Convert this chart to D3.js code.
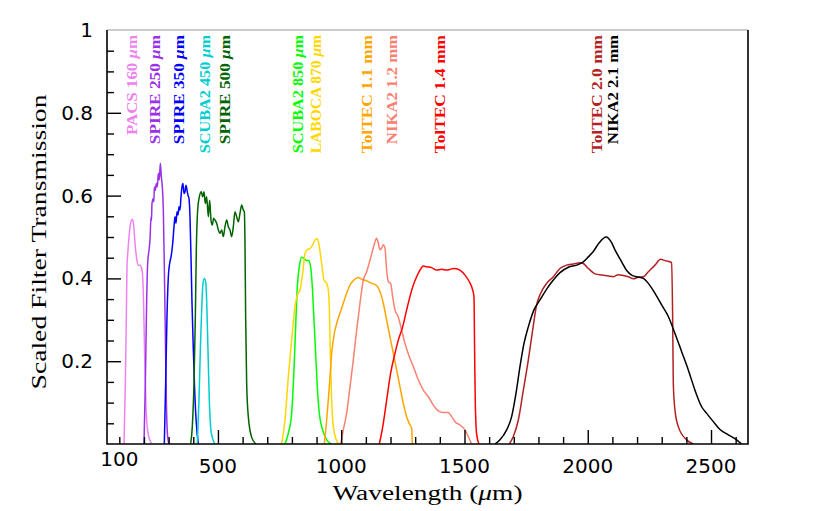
<!DOCTYPE html>
<html>
<head>
<meta charset="utf-8">
<script src="https://cdn.jsdelivr.net/npm/d3@7"></script>
<style>
  body { margin: 0; background: #fff; }
</style>
</head>
<body>
<div id="chart"></div>
<script>
// filter curves, [wavelength (um), scaled transmission]
const pacs160 = [[119,0],[124.4,0.146],[128.4,0.307],[131.1,0.428],[135.2,0.468],[140.6,0.509],[147.3,0.537],[152.7,0.543],[158.2,0.529],[163.6,0.485],[170.3,0.448],[177.1,0.432],[183.8,0.432],[190.6,0.424],[194.7,0.404],[198.7,0.332],[202.8,0.211],[208.2,0.09],[216.3,0.026],[231.2,0]];
const spire250 = [[200,0],[205.5,0.146],[210.9,0.348],[214.9,0.436],[220.3,0.468],[224.4,0.493],[228.5,0.549],[230.5,0.54],[232.5,0.581],[237.9,0.593],[240,0.585],[242,0.621],[246,0.613],[250.1,0.629],[254.1,0.621],[258.2,0.654],[262.3,0.638],[266.3,0.678],[270.4,0.646],[274.4,0.621],[278.5,0.565],[282.5,0.428],[286.6,0.267],[290.6,0.106],[296,0.018],[301.5,0]];
const spire350 = [[282.5,0],[287.9,0.146],[293.3,0.307],[298.8,0.404],[304.2,0.436],[309.6,0.452],[313.6,0.468],[317.7,0.493],[321.7,0.525],[325.8,0.549],[329.9,0.533],[333.9,0.561],[338,0.553],[342,0.573],[346.1,0.565],[350.1,0.597],[354.2,0.621],[358.2,0.629],[362.3,0.605],[366.4,0.609],[370.4,0.625],[374.5,0.613],[378.5,0.601],[382.6,0.593],[386.6,0.549],[390.7,0.452],[394.8,0.34],[400.2,0.227],[405.6,0.13],[412.3,0.05],[420.4,0]];
const scuba450 = [[416.4,0],[423.1,0.106],[428.6,0.227],[434,0.324],[439.4,0.388],[444.8,0.4],[450.2,0.392],[454.2,0.348],[459.6,0.227],[465,0.106],[473.2,0.026],[488,0]];
const spire500 = [[389.3,0],[396,0.042],[402.9,0.146],[408.3,0.307],[412.3,0.468],[417.7,0.565],[424.5,0.597],[432.6,0.609],[438,0.597],[443.4,0.609],[448.8,0.581],[454.2,0.597],[461,0.549],[466.4,0.589],[471.8,0.541],[477.2,0.529],[482.6,0.545],[488,0.541],[494.8,0.533],[501.6,0.517],[508.3,0.509],[515.1,0.517],[521.8,0.501],[528.6,0.525],[535.4,0.541],[542.1,0.525],[548.9,0.517],[555.6,0.501],[562.4,0.525],[569.2,0.561],[575.9,0.549],[582.7,0.537],[589.4,0.557],[596.2,0.577],[603,0.565],[607,0.561],[609.7,0.485],[612.4,0.307],[616.5,0.146],[623.2,0.066],[636.8,0.016],[654.3,0]];
const scuba850 = [[772,0],[785.5,0.026],[799,0.074],[808.4,0.179],[815.2,0.283],[822,0.38],[830,0.428],[839.5,0.451],[849,0.448],[857.1,0.444],[868,0.443],[876,0.428],[882.8,0.38],[889.6,0.299],[896.3,0.219],[903.1,0.138],[911.2,0.074],[924.7,0.034],[941,0.01],[961.2,0]];
const laboca870 = [[758.4,0],[772,0.058],[785.5,0.163],[799,0.251],[812.5,0.332],[822,0.36],[832.8,0.372],[843.6,0.412],[853.1,0.46],[862.5,0.47],[873.3,0.472],[884.2,0.481],[893.6,0.493],[903.1,0.496],[911.2,0.477],[920.7,0.436],[930.1,0.396],[940.9,0.388],[947.7,0.372],[951.7,0.332],[955.8,0.219],[961.2,0.106],[968,0.042],[981.5,0.008],[991,0]];
const toltec11 = [[931.5,0],[941,0.058],[951.8,0.138],[961.2,0.219],[972,0.267],[981.5,0.291],[995,0.316],[1008.5,0.34],[1022,0.364],[1035.6,0.384],[1051.8,0.396],[1069.4,0.402],[1082.9,0.398],[1103.2,0.394],[1123.5,0.388],[1141,0.384],[1154.6,0.372],[1170.8,0.34],[1184.3,0.299],[1197.8,0.259],[1211.3,0.219],[1224.9,0.179],[1238.4,0.138],[1251.9,0.098],[1265.4,0.066],[1278.9,0.046],[1285.7,0.038],[1288.4,0]];
const nika12 = [[997.7,0],[1008.5,0.034],[1022,0.074],[1035.6,0.138],[1049.1,0.203],[1062.6,0.275],[1076.1,0.34],[1089.7,0.396],[1103.2,0.416],[1116.7,0.444],[1126.2,0.465],[1135.6,0.485],[1143.7,0.497],[1150.5,0.485],[1157.3,0.469],[1164,0.473],[1170.8,0.481],[1177.5,0.473],[1184.3,0.42],[1191.1,0.392],[1200.5,0.388],[1208.6,0.356],[1218.1,0.324],[1231.6,0.307],[1245.1,0.275],[1258.7,0.243],[1276.2,0.211],[1292.5,0.187],[1312.7,0.155],[1333,0.13],[1353.3,0.114],[1373.6,0.094],[1393.9,0.08],[1414.1,0.076],[1434.4,0.076],[1447.9,0.066],[1461.4,0.054],[1481.7,0.046],[1502,0.034],[1515.5,0.018],[1529,0]];
const toltec14 = [[1154.6,0],[1168,0.04],[1184.3,0.106],[1200.5,0.171],[1218.1,0.219],[1231.6,0.251],[1249.2,0.283],[1265.4,0.324],[1278.9,0.356],[1292.5,0.384],[1306,0.404],[1319.5,0.42],[1333,0.43],[1346.5,0.428],[1366.8,0.426],[1387.1,0.42],[1407.4,0.422],[1427.7,0.42],[1448,0.423],[1461.4,0.424],[1481.7,0.42],[1502,0.408],[1519.6,0.392],[1533.1,0.372],[1538.5,0.356],[1541.2,0.219],[1543.9,0.098],[1549.3,0.024],[1558.8,0]];
const toltec20 = [[1681.9,0],[1698.1,0.018],[1718.4,0.058],[1738.7,0.13],[1759,0.203],[1776.5,0.275],[1792.7,0.336],[1809,0.364],[1833.3,0.388],[1860.3,0.404],[1887.4,0.424],[1914.4,0.432],[1941.5,0.435],[1968.5,0.438],[1982,0.436],[2002.3,0.424],[2029.3,0.411],[2056.4,0.408],[2083.4,0.406],[2103.7,0.404],[2124,0.409],[2144.3,0.407],[2164.5,0.404],[2184.8,0.399],[2205.1,0.403],[2225.4,0.404],[2245.7,0.416],[2272.7,0.432],[2295.7,0.446],[2313.2,0.443],[2340.3,0.438],[2344.3,0.308],[2347,0.147],[2353.8,0.082],[2367.3,0.042],[2401.1,0.01],[2428.2,0]];
const nika21 = [[1623.7,0],[1644,0.01],[1671,0.034],[1691.3,0.066],[1708.9,0.122],[1725.1,0.187],[1741.4,0.243],[1758.9,0.283],[1781.9,0.324],[1806.3,0.348],[1833.3,0.374],[1860.3,0.396],[1887.4,0.414],[1921.2,0.427],[1955,0.432],[1982,0.44],[2002.3,0.452],[2022.6,0.465],[2045,0.485],[2075,0.5],[2095,0.488],[2110.5,0.469],[2137.5,0.44],[2157.8,0.419],[2178,0.408],[2198.3,0.404],[2225.4,0.4],[2245.7,0.388],[2272.7,0.364],[2299.7,0.336],[2326.8,0.308],[2353.8,0.267],[2380.9,0.223],[2407.9,0.179],[2434.9,0.13],[2462,0.09],[2482.3,0.074],[2509.3,0.054],[2536.3,0.035],[2570.1,0.022],[2604,0.01],[2624.2,0]];

const names  = ["PACS 160", "SPIRE 250", "SPIRE 350", "SCUBA2 450", "SPIRE 500", "SCUBA2 850", "LABOCA 870", "TolTEC 1.1", "NIKA2 1.2", "TolTEC 1.4", "TolTEC 2.0", "NIKA2 2.1"];
const units  = ["μm", "μm", "μm", "μm", "μm", "μm", "μm", "mm", "mm", "mm", "mm", "mm"];
const colors = ["#ee82ee", "#9a30e8", "#0000ff", "#00cdd0", "#006400", "#00ff00", "#ffd700", "#ffa500", "#fa8072", "#ff0000", "#b22222", "#000000"];
const curves = [pacs160, spire250, spire350, scuba450, spire500, scuba850, laboca870, toltec11, nika12, toltec14, toltec20, nika21];
// where each rotated label sits, in wavelength
const labelAt = [150, 245, 343, 448, 529, 825, 898, 1103, 1205, 1401, 2036, 2102];

const xTickLabels = [100, 500, 1000, 1500, 2000, 2500];
const yTickLabels = [0.2, 0.4, 0.6, 0.8, 1];

const width = 816, height = 511;
const pLeft = 107, pRight = 748, pTop = 30, pBottom = 444;
const labelFont = "Liberation Serif, serif";

const svg = d3.select("#chart").append("svg")
    .attr("width", width)
    .attr("height", height);

const x = d3.scaleLinear().domain([50, 2650]).range([pLeft, pRight]);
const y = d3.scaleLinear().domain([0, 1]).range([pBottom, pTop]);

svg.append("defs").append("clipPath").attr("id", "plot")
    .append("rect")
    .attr("x", pLeft).attr("y", pTop)
    .attr("width", pRight - pLeft).attr("height", pBottom - pTop);

// curves
const line = d3.line()
    .x(d => x(d[0]))
    .y(d => y(d[1]))
    .curve(d3.curveMonotoneX);

svg.append("g")
    .attr("clip-path", "url(#plot)")
    .selectAll("path")
    .data(curves)
    .enter().append("path")
    .attr("d", line)
    .attr("fill", "none")
    .attr("stroke", (d, i) => colors[i])
    .attr("stroke-width", 1.5)
    .attr("stroke-linejoin", "round");

// ticks, inward
function noText(g) { g.selectAll("text").remove(); g.select(".domain").remove(); }

const xMinor = d3.range(100, 2700, 100).filter(v => v % 500 != 0);
const xMajor = [500, 1000, 1500, 2000, 2500];
svg.append("g").attr("transform", `translate(0,${pBottom})`)
    .call(d3.axisBottom(x).tickValues(xMinor).tickSizeInner(-7).tickSizeOuter(0))
    .call(noText);
svg.append("g").attr("transform", `translate(0,${pBottom})`)
    .call(d3.axisBottom(x).tickValues(xMajor).tickSizeInner(-14).tickSizeOuter(0))
    .call(noText);

const yMinor = d3.range(1, 20).map(i => i * 0.05).filter(v => Math.abs(v * 5 - Math.round(v * 5)) > 1e-6);
const yMajor = [0.2, 0.4, 0.6, 0.8];
svg.append("g").attr("transform", `translate(${pLeft},0)`)
    .call(d3.axisLeft(y).tickValues(yMinor).tickSizeInner(-7).tickSizeOuter(0))
    .call(noText);
svg.append("g").attr("transform", `translate(${pLeft},0)`)
    .call(d3.axisLeft(y).tickValues(yMajor).tickSizeInner(-14).tickSizeOuter(0))
    .call(noText);
svg.selectAll(".tick line").attr("stroke", "#000").attr("stroke-width", 1.4);

// frame
svg.append("line").attr("x1", pLeft).attr("x2", pRight).attr("y1", pTop).attr("y2", pTop)
    .attr("stroke", "#999").attr("stroke-width", 1);
svg.append("path")
    .attr("d", `M${pLeft},${pTop}V${pBottom}H${pRight}V${pTop}`)
    .attr("fill", "none").attr("stroke", "#000").attr("stroke-width", 1.6);

// tick labels
svg.append("g").selectAll("text")
    .data(xTickLabels)
    .enter().append("text")
    .attr("x", d => x(d))
    .attr("y", d => d == 100 ? 466 : 473)
    .attr("text-anchor", "middle")
    .attr("font-family", "DejaVu Sans")
    .attr("font-size", 20)
    .text(d => d);

svg.append("g").selectAll("text")
    .data(yTickLabels)
    .enter().append("text")
    .attr("x", 93)
    .attr("y", d => y(d) + 7)
    .attr("text-anchor", "end")
    .attr("font-family", "DejaVu Sans")
    .attr("font-size", 20)
    .text(d => d);

// axis titles
const xt = svg.append("text")
    .attr("x", (pLeft + pRight) / 2)
    .attr("y", 500)
    .attr("text-anchor", "middle")
    .attr("font-family", labelFont)
    .attr("font-size", 20)
    .attr("textLength", 190)
    .attr("lengthAdjust", "spacingAndGlyphs");
xt.append("tspan").text("Wavelength (");
xt.append("tspan").attr("font-style", "italic").text("μ");
xt.append("tspan").text("m)");

svg.append("text")
    .attr("transform", `translate(46,${(pTop + pBottom) / 2 + 5}) rotate(-90)`)
    .attr("text-anchor", "middle")
    .attr("font-family", labelFont)
    .attr("font-size", 20)
    .attr("textLength", 295)
    .attr("lengthAdjust", "spacingAndGlyphs")
    .text("Scaled Filter Transmission");

// filter labels, rotated, tops aligned
const lab = svg.append("g").selectAll("text")
    .data(names)
    .enter().append("text")
    .attr("transform", (d, i) => `translate(${x(labelAt[i])},35) rotate(-90)`)
    .attr("text-anchor", "end")
    .attr("dominant-baseline", "central")
    .attr("font-family", labelFont)
    .attr("font-size", 15)
    .attr("font-weight", "bold")
    .attr("textLength", d => (d.length + 3) * 9.1)
    .attr("lengthAdjust", "spacingAndGlyphs")
    .attr("fill", (d, i) => colors[i]);
lab.append("tspan").text(d => d + " ");
lab.append("tspan")
    .attr("font-style", (d, i) => units[i] == "μm" ? "italic" : "normal")
    .text((d, i) => units[i] == "μm" ? "μ" : "m");
lab.append("tspan").text("m");
</script>
</body>
</html>
